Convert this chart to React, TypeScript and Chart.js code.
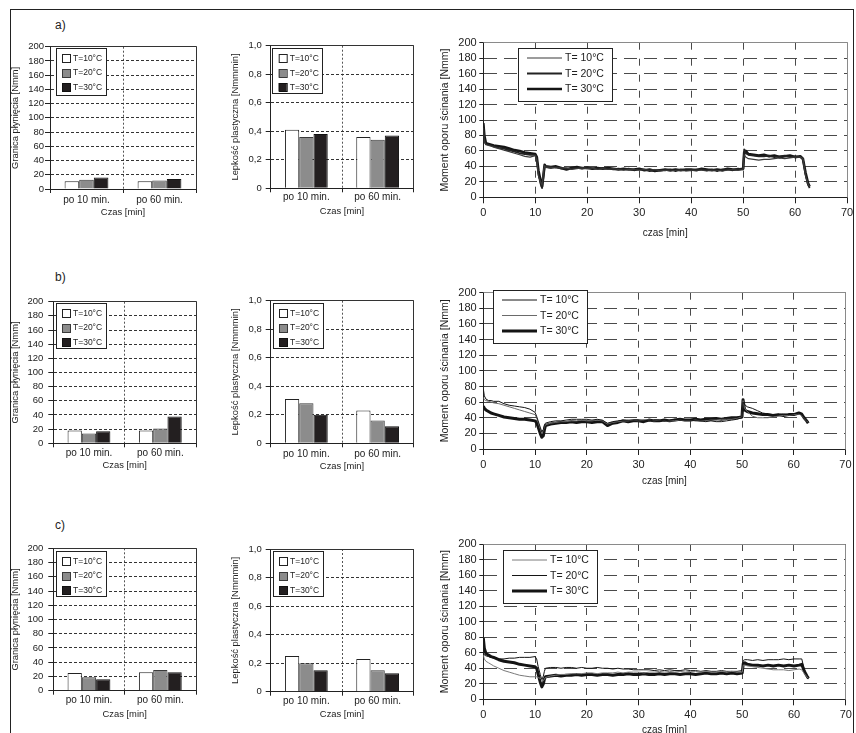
import React, { useEffect, useRef } from "react";
import { Chart, registerables } from "chart.js";

Chart.register(...registerables);

const FONT = '"Liberation Sans", Arial, Helvetica, sans-serif';
const INK = "#222222";

// ---------- text ----------
const barCategories = ["po 10 min.", "po 60 min."];
const barLegendLabels = ["T=10°C", "T=20°C", "T=30°C"];
const lineLegendLabels = ["T= 10°C", "T= 20°C", "T= 30°C"];
const viscosityTickLabels = ["0", "0,2", "0,4", "0,6", "0,8", "1,0"];
const rowLabels = ["a)", "b)", "c)"];

// ---------- yield stress [Nmm] ----------
const yieldA_T10 = [11, 11];
const yieldA_T20 = [13, 12];
const yieldA_T30 = [16, 14];
const yieldB_T10 = [18, 18];
const yieldB_T20 = [14, 21];
const yieldB_T30 = [17, 38];
const yieldC_T10 = [25, 26];
const yieldC_T20 = [19, 29];
const yieldC_T30 = [16, 26];

// ---------- plastic viscosity [Nmmmin] ----------
const viscA_T10 = [0.41, 0.36];
const viscA_T20 = [0.36, 0.34];
const viscA_T30 = [0.38, 0.37];
const viscB_T10 = [0.31, 0.23];
const viscB_T20 = [0.28, 0.16];
const viscB_T30 = [0.2, 0.12];
const viscC_T10 = [0.25, 0.23];
const viscC_T20 = [0.2, 0.15];
const viscC_T30 = [0.15, 0.13];

// ---------- torque curves ----------
const timeMin = [
  0, 0.2, 0.5, 1, 1.5, 2, 3, 4, 5, 6, 7, 8, 9, 10, 10.3, 10.6, 11, 11.3, 11.6, 11.8, 12,
  13, 14, 15, 16, 17, 18, 19, 20, 21, 22, 23, 24, 25, 26, 27, 28, 29, 30, 31, 32, 33, 34, 35, 36, 37, 38, 39, 40, 41, 42, 43, 44, 45, 46, 47, 48, 49, 50,
  50.2, 50.5, 51, 52, 53, 54, 55, 56, 57, 58, 59, 60, 61, 61.5, 62, 62.5, 62.8,
];

const torqueA_T10 = [
  90, 72, 68, 67, 66, 65, 63, 61, 59, 57, 55, 53, 52, 54, 48, 28, 20, 16, 35, 41, 39,
  39, 38, 38, 38, 36, 37, 38, 37, 38, 36, 37, 36, 37, 36, 35, 36, 36, 35, 36, 35, 36, 34, 35, 34, 35, 35, 34, 35, 35, 35, 34, 35, 35, 34, 35, 36, 35, 36,
  55, 52, 50, 49, 48, 49, 49, 50, 51, 50, 51, 52, 52, 50, 28, 17, 14,
];
const torqueA_T20 = [
  94, 75, 69, 68, 67, 66, 64, 63, 61, 59, 57, 56, 55, 55, 50, 30, 18, 12, 28, 40, 39,
  38, 39, 37, 37, 37, 38, 37, 39, 37, 37, 38, 37, 36, 37, 36, 37, 35, 36, 36, 34, 35, 35, 35, 36, 34, 36, 35, 35, 36, 36, 35, 36, 34, 36, 36, 35, 37, 36,
  62, 57, 55, 54, 53, 53, 54, 52, 53, 54, 52, 53, 52, 49, 30, 16, 12,
];
const torqueA_T30 = [
  96, 80, 70, 69, 68, 67, 66, 65, 63, 61, 60, 58, 57, 56, 52, 35, 22, 14, 30, 42, 40,
  39, 40, 38, 36, 38, 39, 38, 38, 37, 38, 37, 38, 37, 36, 37, 36, 36, 37, 35, 36, 34, 35, 36, 35, 36, 35, 36, 36, 35, 37, 36, 35, 36, 35, 37, 36, 36, 37,
  58, 60, 56, 55, 54, 55, 53, 54, 52, 53, 54, 52, 53, 50, 32, 18, 14,
];

const torqueB_T10 = [
  77, 68, 64, 62, 62, 61, 61, 58, 56, 55, 54, 53, 51, 47, 42, 36, 28, 22, 25, 30, 33,
  35, 36, 36, 37, 38, 38, 38, 38, 37, 38, 37, 33, 35, 36, 37, 37, 37, 37, 37, 36, 37, 37, 36, 37, 38, 37, 37, 37, 36, 36, 35, 36, 35, 35, 36, 37, 38, 40,
  60, 57, 54, 52, 49, 46, 45, 44, 44, 45, 44, 45, 46, 44, 40, 37, 35,
];
const torqueB_T20 = [
  66, 63, 62, 61, 60, 59, 58, 56, 54, 52, 50, 48, 46, 44, 40, 34, 26, 20, 24, 28, 31,
  33, 34, 35, 35, 36, 36, 37, 36, 36, 37, 36, 32, 34, 35, 36, 36, 37, 36, 37, 37, 36, 37, 36, 36, 36, 37, 36, 36, 37, 36, 36, 37, 37, 38, 38, 38, 39, 41,
  62, 52, 48, 42, 40, 40, 40, 41, 42, 43, 43, 44, 45, 43, 39, 36, 34,
];
const torqueB_T30 = [
  55, 52, 50, 48, 46, 45, 43, 41, 40, 39, 38, 38, 37, 36, 34, 28, 20, 15, 17, 24, 30,
  32, 33, 34, 34, 35, 34, 35, 35, 34, 35, 35, 30, 33, 34, 36, 35, 36, 36, 35, 37, 36, 36, 37, 36, 37, 38, 37, 37, 38, 37, 38, 38, 39, 38, 39, 40, 40, 41,
  63, 50, 48, 46, 45, 44, 44, 43, 44, 43, 44, 44, 46, 45, 40, 36, 33,
];

const torqueC_T10 = [
  57, 52, 49, 47, 45, 43, 40, 37, 35, 33, 31, 30, 29, 29, 29, 28, 27, 25, 24, 26, 28,
  30, 31, 32, 32, 33, 33, 33, 34, 34, 33, 34, 34, 34, 35, 34, 35, 35, 35, 34, 35, 35, 36, 35, 36, 35, 36, 35, 36, 36, 35, 36, 35, 35, 36, 35, 36, 35, 35,
  44, 44, 43, 42, 41, 40, 39, 38, 38, 38, 37, 38, 39, 38, 33, 29, 27,
];
const torqueC_T20 = [
  60, 57, 56, 55, 54, 53, 52, 52, 53, 53, 54, 54, 54, 55, 52, 42, 32, 25, 30, 36, 40,
  41, 41, 40, 41, 41, 40, 41, 40, 40, 41, 40, 40, 39, 40, 39, 39, 38, 38, 38, 38, 37, 38, 37, 38, 37, 37, 38, 37, 37, 36, 37, 36, 36, 37, 36, 36, 36, 37,
  50, 51, 51, 50, 51, 50, 51, 51, 51, 52, 51, 52, 52, 52, 38, 30, 26,
];
const torqueC_T30 = [
  79, 66, 59, 57, 55, 54, 51, 49, 48, 47, 45, 44, 43, 42, 40, 32, 22, 16, 20, 26, 29,
  30, 31, 30, 31, 31, 32, 31, 32, 32, 31, 32, 32, 31, 32, 32, 33, 32, 32, 33, 32, 32, 33, 32, 33, 33, 32, 33, 33, 32, 33, 34, 33, 33, 34, 33, 34, 33, 34,
  46, 47, 45, 44, 44, 43, 44, 43, 44, 43, 44, 43, 44, 45, 36, 30, 27,
];

// ---------- styles ----------
const BAR_FILL = ["#ffffff", "#8c8c8c", "#231f20"];
const BAR_STROKE = ["#222222", "#3a3a3a", "#111111"];
const LINE_STYLES = [
  [
    { color: "#3a3a3a", width: 1.2 },
    { color: "#222222", width: 1.8 },
    { color: "#141414", width: 2.6 },
  ],
  [
    { color: "#141414", width: 1 },
    { color: "#6a6a6a", width: 1 },
    { color: "#141414", width: 3 },
  ],
  [
    { color: "#7a7a7a", width: 1 },
    { color: "#141414", width: 1 },
    { color: "#141414", width: 3 },
  ],
];

type Spec = {
  kind: "yield" | "visc" | "line";
  row: number;
  plot: number[]; // l, t, r, b (page px)
  yTitleX: number;
  yLabelRight: number;
  xLabelY: number;
  xTitleY: number;
  legend: number[]; // x, y, w, h (page px)
  series: number[][];
};

const SPECS: Spec[] = [
  { kind: "yield", row: 0, plot: [50, 46.7, 196, 189], yTitleX: 15, yLabelRight: 44, xLabelY: 200, xTitleY: 212, legend: [56, 48, 50, 47], series: [yieldA_T10, yieldA_T20, yieldA_T30] },
  { kind: "visc", row: 0, plot: [270.7, 45.7, 413.3, 188.3], yTitleX: 235, yLabelRight: 261.7, xLabelY: 197.7, xTitleY: 211.7, legend: [272.7, 48.3, 50, 45], series: [viscA_T10, viscA_T20, viscA_T30] },
  { kind: "line", row: 0, plot: [483.3, 42.7, 847.3, 197.3], yTitleX: 445, yLabelRight: 476.7, xLabelY: 212.7, xTitleY: 233, legend: [518, 48, 94, 53], series: [torqueA_T10, torqueA_T20, torqueA_T30] },
  { kind: "yield", row: 1, plot: [53.3, 301.7, 196, 443.3], yTitleX: 15, yLabelRight: 43.3, xLabelY: 453, xTitleY: 465, legend: [56, 303, 50, 45], series: [yieldB_T10, yieldB_T20, yieldB_T30] },
  { kind: "visc", row: 1, plot: [270.7, 300.7, 413.3, 443.3], yTitleX: 235, yLabelRight: 261.7, xLabelY: 454, xTitleY: 466.7, legend: [273, 303, 50, 45], series: [viscB_T10, viscB_T20, viscB_T30] },
  { kind: "line", row: 1, plot: [483.3, 292.7, 846.7, 449], yTitleX: 445, yLabelRight: 476.7, xLabelY: 465, xTitleY: 481.7, legend: [493, 290, 94, 53], series: [torqueB_T10, torqueB_T20, torqueB_T30] },
  { kind: "yield", row: 2, plot: [53.3, 548.3, 196, 690.7], yTitleX: 15, yLabelRight: 43.3, xLabelY: 700.7, xTitleY: 714, legend: [56, 551, 50, 45], series: [yieldC_T10, yieldC_T20, yieldC_T30] },
  { kind: "visc", row: 2, plot: [270.7, 549, 413.3, 691.7], yTitleX: 235, yLabelRight: 261.7, xLabelY: 701.5, xTitleY: 714, legend: [273, 551, 50, 45], series: [viscC_T10, viscC_T20, viscC_T30] },
  { kind: "line", row: 2, plot: [483.3, 544, 847, 699.3], yTitleX: 445, yLabelRight: 476.7, xLabelY: 715, xTitleY: 730, legend: [503, 550, 94, 53], series: [torqueC_T10, torqueC_T20, torqueC_T30] },
];

function computeFrame(spec: Spec) {
  const isLine = spec.kind === "line";
  const yTitleSize = isLine ? 10.5 : 9.4;
  const xTitleSize = isLine ? 10 : 9.4;
  const lhY = yTitleSize * 1.2;
  const lhX = xTitleSize * 1.2;
  const p = spec.plot;
  const left = Math.floor(spec.yTitleX - lhY / 2 - 1);
  const top = Math.floor(p[1] - 12);
  const right = Math.ceil(p[2] + (isLine ? 8 : 10));
  const bottom = Math.ceil(spec.xTitleY + lhX / 2 + 1);
  return {
    left,
    top,
    width: right - left,
    height: bottom - top,
    yAxisW: p[0] - left,
    xAxisH: bottom - p[3],
    padTop: p[1] - top,
    padRight: right - p[2],
    yTitlePad: spec.yTitleX - lhY / 2 - left,
    xTitlePad: bottom - spec.xTitleY - lhX / 2,
    yTitleSize,
    xTitleSize,
  };
}

const al = (v: number) => Math.round(v - 0.5) + 0.5;

function overlayPlugin(spec: Spec, f: any) {
  const isLine = spec.kind === "line";
  return {
    id: "frameAndLegend",
    afterDraw(chart: any) {
      const ctx = chart.ctx;
      const a = chart.chartArea;
      ctx.save();
      ctx.setLineDash([]);
      ctx.lineWidth = 1;
      ctx.strokeStyle = isLine ? "#8a8a8a" : "#333333";
      ctx.beginPath();
      ctx.moveTo(al(a.left), al(a.top));
      ctx.lineTo(al(a.right), al(a.top));
      ctx.lineTo(al(a.right), al(a.bottom));
      ctx.stroke();

      const [bx0, by0, bw, bh] = spec.legend;
      const bx = bx0 - f.left;
      const by = by0 - f.top;
      ctx.fillStyle = "#ffffff";
      ctx.fillRect(bx, by, bw, bh);
      ctx.strokeStyle = INK;
      ctx.strokeRect(al(bx), al(by), Math.round(bw), Math.round(bh));
      ctx.textBaseline = "middle";
      ctx.textAlign = "left";
      if (isLine) {
        const rows = [10, 25.5, 41];
        const styles = LINE_STYLES[spec.row];
        ctx.font = `10.5px ${FONT}`;
        rows.forEach((dy, i) => {
          const y = by + dy;
          ctx.strokeStyle = styles[i].color;
          ctx.lineWidth = styles[i].width;
          ctx.beginPath();
          ctx.moveTo(bx + 9, y);
          ctx.lineTo(bx + 44, y);
          ctx.stroke();
          ctx.fillStyle = INK;
          ctx.fillText(lineLegendLabels[i], bx + 47, y + 0.5);
        });
      } else {
        const rows = [10, 24.5, 39];
        ctx.font = `8.5px ${FONT}`;
        ctx.lineWidth = 1;
        rows.forEach((dy, i) => {
          const y = by + dy;
          ctx.fillStyle = BAR_FILL[i];
          ctx.fillRect(bx + 6, Math.round(y - 4), 8, 8);
          ctx.strokeStyle = BAR_STROKE[i];
          ctx.strokeRect(bx + 6.5, Math.round(y - 4) + 0.5, 8, 8);
          ctx.fillStyle = INK;
          ctx.fillText(barLegendLabels[i], bx + 17, y + 0.5);
        });
      }
      ctx.restore();
    },
  };
}

function buildConfig(spec: Spec, f: any): any {
  const isLine = spec.kind === "line";
  const p = spec.plot;
  const yTl = isLine ? 4 : 5;
  const xTl = isLine ? 6 : 4;
  const yTickSize = isLine ? 11 : 9.5;
  const xTickSize = isLine ? 11 : 10;
  const yPad = p[0] - yTl - spec.yLabelRight;
  const xPad = spec.xLabelY - p[3] - xTl - (xTickSize * 1.2) / 2;
  const yTitleText = isLine
    ? "Moment oporu ścinania [Nmm]"
    : spec.kind === "yield"
    ? "Granica płynięcia [Nmm]"
    : "Lepkość plastyczna [Nmmmin]";
  const xTitleText = isLine ? "czas [min]" : "Czas [min]";

  const common = {
    responsive: false,
    maintainAspectRatio: false,
    animation: false,
    devicePixelRatio: 1,
    events: [],
    layout: { padding: { top: f.padTop, right: f.padRight, left: 0, bottom: 0 } },
    plugins: { legend: { display: false }, tooltip: { enabled: false }, title: { display: false } },
  };

  const yTitle = {
    display: true,
    text: yTitleText,
    color: INK,
    font: { family: FONT, size: f.yTitleSize },
    padding: { top: f.yTitlePad, bottom: 0 },
  };
  const xTitle = {
    display: true,
    text: xTitleText,
    color: INK,
    font: { family: FONT, size: f.xTitleSize },
    padding: { top: 0, bottom: f.xTitlePad },
  };

  if (isLine) {
    const styles = LINE_STYLES[spec.row];
    return {
      type: "line",
      data: {
        datasets: spec.series.map((vals, i) => ({
          label: lineLegendLabels[i],
          data: timeMin.map((t, k) => ({ x: t, y: vals[k] })),
          borderColor: styles[i].color,
          borderWidth: styles[i].width,
          pointRadius: 0,
          tension: 0,
          fill: false,
          borderJoinStyle: "round",
        })),
      },
      options: {
        ...common,
        scales: {
          x: {
            type: "linear",
            min: 0,
            max: 70,
            ticks: { stepSize: 10, autoSkip: false, color: INK, font: { family: FONT, size: xTickSize }, padding: xPad, maxRotation: 0 },
            grid: { color: "#4a4a4a", lineWidth: 1, tickLength: xTl, tickColor: INK },
            border: { color: INK, width: 1, dash: [7, 9] },
            title: xTitle,
            afterFit: (s: any) => {
              s.height = f.xAxisH;
            },
          },
          y: {
            min: 0,
            max: 200,
            ticks: { stepSize: 20, autoSkip: false, color: INK, font: { family: FONT, size: yTickSize }, padding: yPad },
            grid: { color: "#4a4a4a", lineWidth: 1, tickLength: yTl, tickColor: INK },
            border: { color: INK, width: 1, dash: [13, 7] },
            title: yTitle,
            afterFit: (s: any) => {
              s.width = f.yAxisW;
            },
          },
        },
      },
      plugins: [overlayPlugin(spec, f)],
    };
  }

  const isVisc = spec.kind === "visc";
  return {
    type: "bar",
    data: {
      labels: barCategories,
      datasets: spec.series.map((vals, i) => ({
        label: barLegendLabels[i],
        data: vals,
        backgroundColor: BAR_FILL[i],
        borderColor: BAR_STROKE[i],
        borderWidth: 1,
        barPercentage: 1,
        categoryPercentage: 0.6,
      })),
    },
    options: {
      ...common,
      scales: {
        x: {
          type: "category",
          offset: true,
          ticks: { color: INK, font: { family: FONT, size: xTickSize }, padding: xPad, maxRotation: 0, autoSkip: false },
          grid: { offset: true, color: "#555555", lineWidth: 1, tickLength: xTl, tickColor: INK },
          border: { color: INK, width: 1, dash: [2, 2] },
          title: xTitle,
          afterFit: (s: any) => {
            s.height = f.xAxisH;
          },
        },
        y: {
          min: 0,
          max: isVisc ? 1 : 200,
          ticks: {
            stepSize: isVisc ? 0.2 : 20,
            autoSkip: false,
            color: INK,
            font: { family: FONT, size: yTickSize },
            padding: yPad,
            callback: isVisc
              ? (v: number) => viscosityTickLabels[Math.round(v / 0.2)]
              : (v: number) => String(v),
          },
          grid: { color: "#333333", lineWidth: 1, tickLength: yTl, tickColor: INK },
          border: { color: INK, width: 1, dash: [3, 2] },
          title: yTitle,
          afterFit: (s: any) => {
            s.width = f.yAxisW;
          },
        },
      },
    },
    plugins: [overlayPlugin(spec, f)],
  };
}

function ChartCanvas({ spec }: { spec: Spec }) {
  const ref = useRef<HTMLCanvasElement | null>(null);
  const f = computeFrame(spec);
  useEffect(() => {
    if (!ref.current) return;
    const chart = new Chart(ref.current, buildConfig(spec, f));
    return () => chart.destroy();
  }, []);
  return (
    <canvas
      ref={ref}
      width={f.width}
      height={f.height}
      style={{ position: "absolute", left: f.left, top: f.top, width: f.width, height: f.height }}
    />
  );
}

const ROW_LABEL_Y = [25, 277, 525];

export default function App() {
  return (
    <div
      style={{
        position: "absolute",
        left: 0,
        top: 0,
        width: 856,
        height: 733,
        overflow: "hidden",
        background: "#ffffff",
        fontFamily: FONT,
        color: INK,
      }}
    >
      <div
        style={{
          position: "absolute",
          left: 10,
          top: 9,
          width: 844,
          height: 800,
          border: "1px solid #222",
          boxSizing: "border-box",
        }}
      />
      {rowLabels.map((t, i) => (
        <div
          key={t}
          style={{
            position: "absolute",
            left: 55,
            top: ROW_LABEL_Y[i] - 7,
            fontSize: 12,
            lineHeight: "14px",
            fontFamily: FONT,
          }}
        >
          {t}
        </div>
      ))}
      {SPECS.map((s, i) => (
        <ChartCanvas key={i} spec={s} />
      ))}
    </div>
  );
}
